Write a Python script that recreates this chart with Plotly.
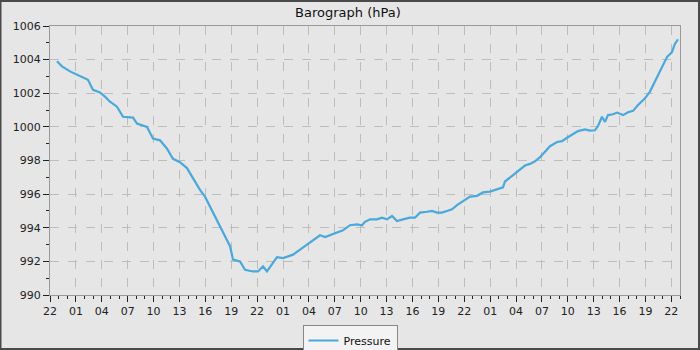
import plotly.graph_objects as go
import pandas as pd

# Hours after the start of the axis (22:00 on day 0) and pressure in hPa
hours = [0.81, 1.39, 2.32, 3.13, 4.40, 4.98, 5.79, 6.37, 6.95, 7.76,
         8.46, 9.62, 10.08, 11.24, 11.94, 12.75, 13.56, 14.25, 15.06, 15.87,
         16.57, 17.38, 17.96, 18.54, 19.35, 20.05, 20.86, 21.21, 22.02, 22.60,
         23.52, 24.10, 24.68, 25.14, 26.30, 27.00, 28.16, 28.97, 30.13, 31.29,
         31.87, 33.26, 33.95, 34.76, 35.57, 36.15, 36.50, 37.08, 37.89, 38.47,
         39.05, 39.63, 40.21, 40.90, 41.71, 42.29, 42.87, 43.69, 44.26, 44.84,
         45.42, 46.00, 46.58, 47.16, 47.86, 48.67, 49.48, 50.17, 50.98, 51.80,
         52.49, 52.72, 53.30, 53.88, 54.46, 55.04, 55.62, 56.20, 56.78, 57.36,
         57.94, 58.75, 59.33, 59.91, 60.49, 61.18, 61.99, 62.57, 63.15, 63.50,
         63.96, 64.31, 64.66, 65.24, 65.70, 66.40, 66.98, 67.56, 68.14, 68.71,
         68.94, 69.52, 70.10, 70.68, 71.03, 71.49, 72.07, 72.42, 72.77]
pressure = [1003.9, 1003.6, 1003.3, 1003.1, 1002.8, 1002.2, 1002.05, 1001.8, 1001.5, 1001.2,
            1000.6, 1000.55, 1000.2, 1000.0, 999.3, 999.2, 998.7, 998.1, 997.9, 997.55,
            996.95, 996.25, 995.85, 995.25, 994.5, 993.7, 992.9, 992.1, 992.0, 991.5,
            991.4, 991.4, 991.7, 991.4, 992.25, 992.2, 992.4, 992.7, 993.15, 993.55,
            993.45, 993.7, 993.85, 994.15, 994.2, 994.15, 994.35, 994.5, 994.5, 994.6,
            994.5, 994.7, 994.4, 994.5, 994.6, 994.6, 994.9, 994.95, 995.0, 994.9,
            994.9, 995.0, 995.1, 995.35, 995.6, 995.85, 995.9, 996.1, 996.15, 996.3,
            996.4, 996.75, 997.0, 997.25, 997.45, 997.7, 997.8, 997.95, 998.2, 998.5,
            998.85, 999.1, 999.15, 999.35, 999.55, 999.75, 999.85, 999.78, 999.8, 1000.05,
            1000.6, 1000.3, 1000.7, 1000.75, 1000.85, 1000.7, 1000.87, 1000.95, 1001.3, 1001.55,
            1001.7, 1002.1, 1002.7, 1003.3, 1003.6, 1004.15, 1004.45, 1004.95, 1005.2]

start = pd.Timestamp("2024-03-10 22:00")
end = pd.Timestamp("2024-03-13 23:00")
times = [start + pd.Timedelta(hours=h) for h in hours]

font = "DejaVu Sans, Liberation Sans, sans-serif"

fig = go.Figure()
fig.add_trace(go.Scatter(x=times, y=pressure, mode="lines", name="Pressure",
                         line=dict(color="#4aa8da", width=2.2)))

fig.update_layout(
    width=700, height=350,
    margin=dict(l=50, r=20, t=26, b=55, autoexpand=False),
    paper_bgcolor="#e6e6e6", plot_bgcolor="#e6e6e6",
    font=dict(family=font, size=11, color="#222222"),
    title=dict(text="Barograph (hPa)", x=0.497, xanchor="center", y=0.965, yanchor="middle",
               font=dict(family=font, size=13, color="#111111")),
    showlegend=True,
    legend=dict(xref="container", yref="container", x=0.5, xanchor="center",
                y=1 - 325 / 350, yanchor="top", itemwidth=30,
                bgcolor="#f3f3f3", bordercolor="#888888", borderwidth=1,
                font=dict(family=font, size=11, color="#111111")),
    xaxis=dict(range=[start, end], type="date", tickformat="%H",
               tick0=start, dtick=3 * 3600 * 1000,
               showgrid=True, gridcolor="#bdbdbd", griddash="dash", gridwidth=1,
               showline=True, linecolor="#999999", linewidth=1, mirror=True,
               ticks="outside", ticklen=6, tickcolor="#222222",
               minor=dict(dtick=3600 * 1000, ticks="outside", ticklen=3, tickcolor="#222222",
                          showgrid=False),
               zeroline=False),
    yaxis=dict(range=[990, 1006], tick0=990, dtick=2,
               showgrid=True, gridcolor="#bdbdbd", griddash="dash", gridwidth=1,
               showline=True, linecolor="#999999", linewidth=1, mirror=True,
               ticks="outside", ticklen=6, tickcolor="#222222",
               minor=dict(dtick=1, ticks="outside", ticklen=3, tickcolor="#222222",
                          showgrid=False),
               zeroline=False),
)

# outer frame of the picture
fig.add_shape(type="rect", xref="paper", yref="paper",
              x0=-50 / 630 + 0.5 / 630, x1=1 + 20 / 630 - 1 / 630,
              y0=-55 / 269 + 1 / 269, y1=1 + 26 / 269 - 1 / 269,
              line=dict(color="#4a4a4a", width=2), layer="above")

fig.write_html("out.html")
